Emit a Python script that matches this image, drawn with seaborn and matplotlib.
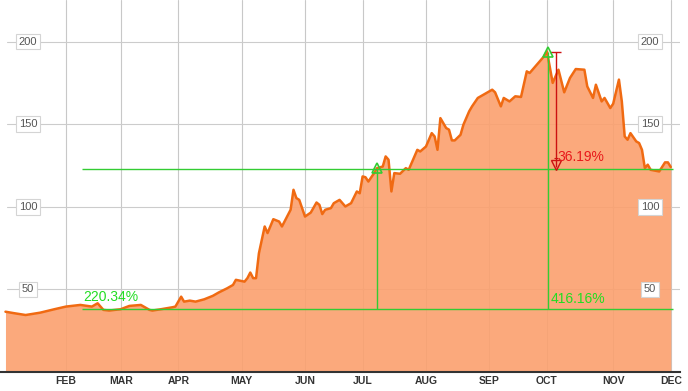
import pandas as pd
import seaborn as sns
import matplotlib.pyplot as plt

# trading-session index (0 = first session of Jan) and closing price
session = [0, 3, 7, 12, 17, 21, 26, 30, 32, 34, 36, 40, 43, 47, 48, 50, 51, 54, 58, 59,
           61, 62, 64, 66, 69, 72, 74, 77, 79, 80, 83, 84, 85, 86, 87, 88, 90, 91, 93, 95,
           96, 99, 100, 101, 102, 104, 106, 108, 109, 110, 111, 113, 114, 116, 118, 120,
           122, 123, 124, 125, 126, 128, 129, 131, 132, 133, 134, 135, 137, 139, 140, 143,
           144, 146, 148, 149, 150, 151, 153, 154, 155, 156, 158, 159, 161, 162, 164, 165,
           167, 169, 170, 172, 173, 175, 177, 179, 181, 182, 184, 187, 188, 190, 192, 194,
           196, 198, 201, 202, 204, 205, 207, 208, 210, 211, 213, 214, 215, 216, 217, 219,
           220, 221, 222, 223, 224, 227, 229, 230, 231]
price = [36.5, 35.6, 34.5, 35.9, 38.0, 39.6, 40.6, 39.6, 41.6, 37.6, 37.2, 38.0, 40.0, 40.6,
         39.6, 37.6, 37.2, 38.0, 39.2, 39.6, 45.6, 42.6, 43.2, 42.6, 44.0, 46.1, 48.1, 50.7,
         52.7, 55.8, 54.7, 56.8, 60.2, 56.8, 56.8, 71.9, 88.1, 84.1, 92.5, 91.1, 88.1, 98.2,
         110.3, 105.3, 104.2, 94.1, 96.5, 102.6, 101.2, 95.6, 98.2, 99.2, 102.2, 104.2, 100.2,
         102.2, 109.3, 108.2, 118.4, 117.9, 115.3, 120.4, 123.4, 124.4, 130.5, 128.5, 109.3,
         120.4, 120.0, 123.4, 122.4, 134.5, 133.5, 136.5, 144.6, 142.6, 134.5, 153.7, 147.7,
         146.7, 140.2, 140.2, 143.6, 149.7, 157.8, 160.8, 165.9, 166.9, 168.9, 170.9, 169.3,
         160.8, 165.9, 163.8, 166.9, 166.5, 182.0, 181.0, 185.0, 191.1, 194.1, 175.0, 183.0,
         169.3, 178.0, 183.4, 183.0, 172.9, 165.9, 173.9, 163.8, 165.9, 159.8, 162.4, 177.0,
         163.8, 142.6, 140.6, 144.6, 139.6, 138.6, 134.5, 123.4, 125.5, 122.4, 121.4, 126.9,
         126.9, 124.1]

month_labels = ["FEB", "MAR", "APR", "MAY", "JUN", "JUL", "AUG", "SEP", "OCT", "NOV", "DEC"]
month_start = [21, 40, 60, 82, 104, 124, 146, 168, 188, 211, 231]
y_levels = [50, 100, 150, 200]

# annotation levels
low_level = 38.0
mid_level = 123.0
peak_level = 193.5
pct_labels = ["220.34%", "416.16%", "36.19%"]

df = pd.DataFrame({"session": session, "price": price})

sns.set_style("white")
plt.rcParams["font.family"] = ["Liberation Sans", "DejaVu Sans"]

fig = plt.figure(figsize=(6.88, 3.91), dpi=100)
ax = fig.add_axes([0, 19 / 391, 680 / 688, 372 / 391])

# grid first, the fill lets it show through faintly
for m in month_start:
    ax.axvline(m, color="#c8c8c8", lw=0.8, zorder=1)
for v in y_levels:
    ax.axhline(v, xmin=0.01, color="#cccccc", lw=0.8, zorder=1)

ax.fill_between(df["session"], df["price"], 0, color="#fba06e", alpha=0.9, lw=0, zorder=2)
sns.lineplot(data=df, x="session", y="price", color="#f06a12", lw=1.8, ax=ax, zorder=3)

ax.set_xlim(-1.9, 234.2)
ax.set_ylim(0, 225.2)

# y labels, boxed, on both sides
box = dict(boxstyle="square,pad=0.25", fc="white", ec="#d4d4d4", lw=0.8)
for v in y_levels:
    ax.text(7.8, v, str(v), ha="center", va="center", fontsize=8, color="#555555",
            bbox=box, zorder=6)
    ax.text(223.8, v, str(v), ha="center", va="center", fontsize=8, color="#555555",
            bbox=box, zorder=6)

# annotations
green = "#33cc33"
ax.hlines([low_level, mid_level], 26.6, 231.8, color=green, lw=1, zorder=5)
ax.vlines(129.0, low_level, mid_level, color=green, lw=1, zorder=5)
ax.vlines(188.5, low_level, peak_level, color=green, lw=1, zorder=5)
ax.plot([129.0, 188.5], [mid_level + 0.5, peak_level], ls="none", marker="^", ms=7,
        mfc="none", mec=green, mew=1.2, zorder=6)

red = "#cc1111"
ax.vlines(191.0, mid_level + 1, peak_level, color=red, lw=1, zorder=5)
ax.hlines(peak_level, 189.2, 192.8, color=red, lw=1, zorder=5)
ax.hlines(129.5, 190.3, 191.7, color=red, lw=0.8, zorder=5)
ax.plot([191.0], [mid_level + 2.2], ls="none", marker="v", ms=7, mfc="none",
        mec=red, mew=1, zorder=6)

ax.text(26.9, 45.2, pct_labels[0], color="#22dd22", fontsize=10, va="center", ha="left",
        zorder=7)
ax.text(189.3, 44.4, pct_labels[1], color="#22dd22", fontsize=10, va="center", ha="left",
        zorder=7)
ax.text(191.6, 130.2, pct_labels[2], color="#e8191b", fontsize=10, va="center", ha="left",
        zorder=7)

ax.set_xticks(month_start)
ax.set_xticklabels(month_labels, fontsize=7.5, fontweight="bold", color="#333333")
ax.tick_params(axis="x", length=0, pad=3)
ax.set_yticks([])
ax.set_xlabel("")
ax.set_ylabel("")
for s in ["top", "left", "right"]:
    ax.spines[s].set_visible(False)
ax.spines["bottom"].set_color("#333333")
ax.spines["bottom"].set_linewidth(1.5)

fig.savefig("out.png", dpi=100)
